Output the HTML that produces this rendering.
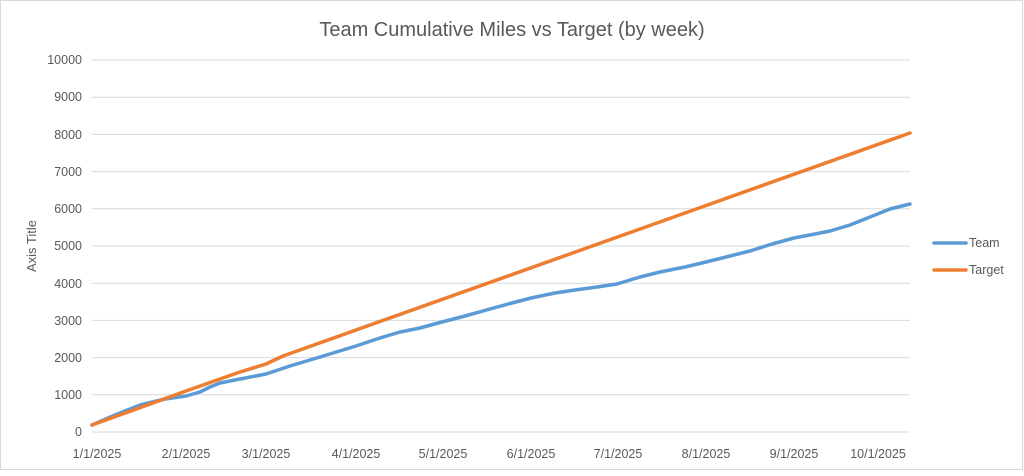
<!DOCTYPE html>
<html><head><meta charset="utf-8"><style>
body{margin:0;background:#fff}
svg text{font-family:"Liberation Sans",sans-serif;fill:#595959}
</style></head><body>
<svg width="1024" height="471" viewBox="0 0 1024 471" xmlns="http://www.w3.org/2000/svg">
<rect x="0.5" y="0.5" width="1022" height="469" fill="#fff" stroke="#d9d9d9"/>
<text x="512" y="36" font-size="20" text-anchor="middle">Team Cumulative Miles vs Target (by week)</text>
<g stroke="#d9d9d9" stroke-width="1">
<line x1="92" x2="910" y1="60" y2="60"/><line x1="92" x2="910" y1="97.2" y2="97.2"/>
<line x1="92" x2="910" y1="134.4" y2="134.4"/><line x1="92" x2="910" y1="171.6" y2="171.6"/>
<line x1="92" x2="910" y1="208.8" y2="208.8"/><line x1="92" x2="910" y1="246" y2="246"/>
<line x1="92" x2="910" y1="283.2" y2="283.2"/><line x1="92" x2="910" y1="320.4" y2="320.4"/>
<line x1="92" x2="910" y1="357.6" y2="357.6"/><line x1="92" x2="910" y1="394.8" y2="394.8"/>
<line x1="92" x2="910" y1="432" y2="432"/>
</g>
<g font-size="12.5" text-anchor="end">
<text x="82" y="64">10000</text><text x="82" y="101">9000</text><text x="82" y="139">8000</text>
<text x="82" y="176">7000</text><text x="82" y="213">6000</text><text x="82" y="250">5000</text>
<text x="82" y="288">4000</text><text x="82" y="325">3000</text><text x="82" y="362">2000</text>
<text x="82" y="399">1000</text><text x="82" y="436">0</text>
</g>
<g font-size="12.5" text-anchor="middle">
<text x="97" y="458">1/1/2025</text><text x="186" y="458">2/1/2025</text><text x="266" y="458">3/1/2025</text>
<text x="356" y="458">4/1/2025</text><text x="443" y="458">5/1/2025</text><text x="531" y="458">6/1/2025</text>
<text x="618" y="458">7/1/2025</text><text x="706" y="458">8/1/2025</text><text x="794" y="458">9/1/2025</text>
<text x="878" y="458">10/1/2025</text>
</g>
<text transform="translate(36,246) rotate(-90)" font-size="13" text-anchor="middle">Axis Title</text>
<polyline fill="none" stroke="#5b9bd5" stroke-width="3.5" stroke-linejoin="round" stroke-linecap="round"
points="92,425 115,415 140,405 165,399 186,396 200,392 210,387 220,383 240,379 266,374 290,366 320,357 356,346 380,338 400,332 420,328 442,322 465,316 490,309 512,303 531,298 555,293 575,290 597,287 617,284 640,277 660,272 685,267 706,262 730,256 750,251 772,244 794,238 815,234 830,231 850,225 870,217 890,209 910,204"/>
<polyline fill="none" stroke="#ed7d31" stroke-width="3.5" stroke-linejoin="round" stroke-linecap="round"
points="92,425 186,391 240,372 266,364 283,356 910,133"/>
<line x1="934" x2="966" y1="243" y2="243" stroke="#5b9bd5" stroke-width="3.5" stroke-linecap="round"/>
<text x="969" y="247" font-size="12.5">Team</text>
<line x1="934" x2="966" y1="270" y2="270" stroke="#ed7d31" stroke-width="3.5" stroke-linecap="round"/>
<text x="969" y="274" font-size="12.5">Target</text>
</svg>
</body></html>
